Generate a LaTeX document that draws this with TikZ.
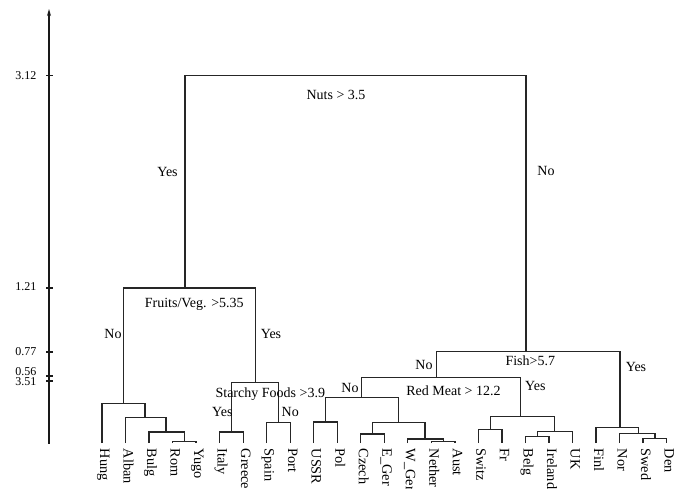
\documentclass[tikz,border=0pt]{standalone}
\usepackage{fontspec}
\setmainfont{Liberation Serif}
\usetikzlibrary{arrows.meta}
\tikzset{
  tree/.style={line width=1.25pt, line join=miter, draw=black!85},
  axisline/.style={line width=1.6pt, draw=black!90},
  lbl/.style={font=\fontsize{14}{16}\selectfont, inner sep=0pt, anchor=base},
  leaflbl/.style={font=\fontsize{14.3}{16}\selectfont, rotate=-90, anchor=base west, inner xsep=5.5pt, inner ysep=0pt},
  ticklbl/.style={font=\fontsize{12}{13}\selectfont, anchor=east, inner sep=0pt},
}
\begin{document}
\begin{tikzpicture}[x=1pt,y=-1pt]
\useasboundingbox (0,0) rectangle (677,489);

% axis
\coordinate (axb) at (49,443.5);
\coordinate (axt) at (49,9);
\draw[axisline,-{Stealth[length=7pt,width=4pt]}] (axb) -- (axt);
\coordinate (t1) at (49,75.5);
\coordinate (t2) at (49,288);
\coordinate (t3) at (49,352);
\coordinate (t4) at (49,376);
\coordinate (t5) at (49,381);
\foreach \t in {t1,t2,t3,t4,t5}{\draw[axisline] ([xshift=-3pt]\t) -- ([xshift=3.5pt]\t);}
\node[ticklbl] (l1) at (36.5,75.5) {3.12};
\node[ticklbl] (l2) at (36.5,287) {1.21};
\node[ticklbl] (l3) at (36.5,352) {0.77};
\node[ticklbl] (l4) at (36.5,371.3) {0.56};
\node[ticklbl] (l5) at (36.5,382) {3.51};

% leaves
\coordinate (hung) at (102.0,443);
\coordinate (alban) at (125.5,443);
\coordinate (bulg) at (149.1,443);
\coordinate (rom) at (172.6,443);
\coordinate (yugo) at (196.1,443);
\coordinate (italy) at (219.6,443);
\coordinate (greece) at (243.2,443);
\coordinate (spain) at (266.7,443);
\coordinate (port) at (290.2,443);
\coordinate (ussr) at (313.7,443);
\coordinate (pol) at (337.3,443);
\coordinate (czech) at (360.8,443);
\coordinate (eger) at (384.3,443);
\coordinate (wger) at (407.8,443);
\coordinate (nether) at (431.4,443);
\coordinate (aust) at (454.9,443);
\coordinate (switz) at (478.4,443);
\coordinate (fr) at (501.9,443);
\coordinate (belg) at (525.5,443);
\coordinate (ireland) at (549.0,443);
\coordinate (uk) at (572.5,443);
\coordinate (finl) at (596.0,443);
\coordinate (nor) at (619.6,443);
\coordinate (swed) at (643.1,443);
\coordinate (den) at (666.6,443);

\node[leaflbl] (hungT) at ([xshift=-2pt]hung) {Hung};
\node[leaflbl] (albanT) at ([xshift=-2pt]alban) {Alban};
\node[leaflbl] (bulgT) at ([xshift=-2pt]bulg) {Bulg};
\node[leaflbl] (romT) at ([xshift=-2pt]rom) {Rom};
\node[leaflbl] (yugoT) at ([xshift=-2pt]yugo) {Yugo};
\node[leaflbl] (italyT) at ([xshift=-2pt]italy) {Italy};
\node[leaflbl] (greeceT) at ([xshift=-2pt]greece) {Greece};
\node[leaflbl] (spainT) at ([xshift=-2pt]spain) {Spain};
\node[leaflbl] (portT) at ([xshift=-2pt]port) {Port};
\node[leaflbl] (ussrT) at ([xshift=-2pt]ussr) {USSR};
\node[leaflbl] (polT) at ([xshift=-2pt]pol) {Pol};
\node[leaflbl] (czechT) at ([xshift=-2pt]czech) {Czech};
\node[leaflbl] (egerT) at ([xshift=-2pt]eger) {E\_Ger};
\node[leaflbl] (wgerT) at ([xshift=-2pt]wger) {W\_Ger};
\node[leaflbl] (netherT) at ([xshift=-2pt]nether) {Nether};
\node[leaflbl] (austT) at ([xshift=-2pt]aust) {Aust};
\node[leaflbl] (switzT) at ([xshift=-2pt]switz) {Switz};
\node[leaflbl] (frT) at ([xshift=-2pt]fr) {Fr};
\node[leaflbl] (belgT) at ([xshift=-2pt]belg) {Belg};
\node[leaflbl] (irelandT) at ([xshift=-2pt]ireland) {Ireland};
\node[leaflbl] (ukT) at ([xshift=-2pt]uk) {UK};
\node[leaflbl] (finlT) at ([xshift=-2pt]finl) {Finl};
\node[leaflbl] (norT) at ([xshift=-2pt]nor) {Nor};
\node[leaflbl] (swedT) at ([xshift=-2pt]swed) {Swed};
\node[leaflbl] (denT) at ([xshift=-2pt]den) {Den};

% merge points
\coordinate (mRY) at (184.4,441.7);
\coordinate (mBRY) at (166,432);
\coordinate (mABRY) at (145,417.7);
\coordinate (mHA) at (123.3,403.7);
\coordinate (mIG) at (231.4,432);
\coordinate (mSP) at (278.5,422.7);
\coordinate (mStarchy) at (255.5,382.7);
\coordinate (mFruits) at (185,288);
\coordinate (mUP) at (325.5,422);
\coordinate (mCE) at (372.6,434);
\coordinate (mNA) at (443.2,441.3);
\coordinate (mWNA) at (425,439);
\coordinate (mCEWNA) at (398.7,422.3);
\coordinate (mUPCE) at (361.5,397.3);
\coordinate (mSF) at (490.2,429.3);
\coordinate (mBI) at (537.2,436.7);
\coordinate (mBIU) at (554.3,431.7);
\coordinate (mSFBIU) at (520.7,416.7);
\coordinate (mRed) at (436.3,377.3);
\coordinate (mSD) at (654.9,438.7);
\coordinate (mNSD) at (638.5,433.3);
\coordinate (mFNSD) at (620,427.3);
\coordinate (mFish) at (526,351.7);
\coordinate (mNuts) at (355,75.5);

% dendrogram
\draw[tree] (rom) |- (mRY) -| (yugo);
\draw[tree] (bulg) |- (mBRY) -| (mRY);
\draw[tree] (alban) |- (mABRY) -| (mBRY);
\draw[tree] (hung) |- (mHA) -| (mABRY);
\draw[tree] (italy) |- (mIG) -| (greece);
\draw[tree] (spain) |- (mSP) -| (port);
\draw[tree] (mIG) |- (mStarchy) -| (mSP);
\draw[tree] (mHA) |- (mFruits) -| (mStarchy);
\draw[tree] (ussr) |- (mUP) -| (pol);
\draw[tree] (czech) |- (mCE) -| (eger);
\draw[tree] (nether) |- (mNA) -| (aust);
\draw[tree] (wger) |- (mWNA) -| (mNA);
\draw[tree] (mCE) |- (mCEWNA) -| (mWNA);
\draw[tree] (mUP) |- (mUPCE) -| (mCEWNA);
\draw[tree] (switz) |- (mSF) -| (fr);
\draw[tree] (belg) |- (mBI) -| (ireland);
\draw[tree] (mBI) |- (mBIU) -| (uk);
\draw[tree] (mSF) |- (mSFBIU) -| (mBIU);
\draw[tree] (mUPCE) |- (mRed) -| (mSFBIU);
\draw[tree] (swed) |- (mSD) -| (den);
\draw[tree] (nor) |- (mNSD) -| (mSD);
\draw[tree] (finl) |- (mFNSD) -| (mNSD);
\draw[tree] (mRed) |- (mFish) -| (mFNSD);
\draw[tree] (mFruits) |- (mNuts) -| (mFish);

% split labels
\node[lbl] (nuts) at (336,100) {Nuts > 3.5};
\node[lbl] (nutsY) at (167.5,176.5) {Yes};
\node[lbl] (nutsN) at (546,176) {No};
\node[lbl] (fruits) at (194.3,307) {Fruits/Veg. >5.35};
\node[lbl] (fruitsN) at (113,338) {No};
\node[lbl] (fruitsY) at (271,338) {Yes};
\node[lbl] (starchy) at (270.3,397) {Starchy Foods >3.9};
\node[lbl] (starchyY) at (222.3,416) {Yes};
\node[lbl] (starchyN) at (290.2,416) {No};
\node[lbl] (fish) at (530.3,365) {Fish>5.7};
\node[lbl] (fishN) at (424,369) {No};
\node[lbl] (fishY) at (636,371.5) {Yes};
\node[lbl] (red) at (453.5,395) {Red Meat > 12.2};
\node[lbl] (redN) at (350,392.5) {No};
\node[lbl] (redY) at (535.3,390) {Yes};
\end{tikzpicture}
\end{document}
